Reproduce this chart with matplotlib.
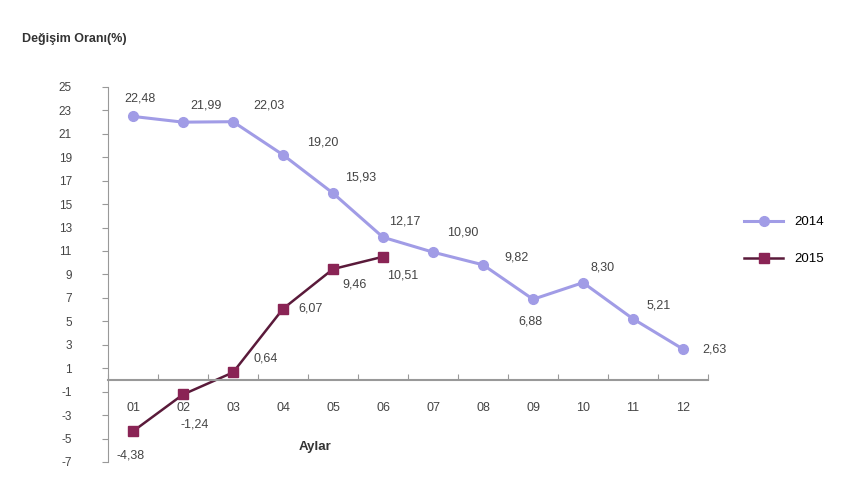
import numpy as np
import matplotlib.pyplot as plt

plt.rcParams['font.family'] = ['Liberation Sans', 'DejaVu Sans']

# data
months = ["01", "02", "03", "04", "05", "06", "07", "08", "09", "10", "11", "12"]
y2014 = [22.48, 21.99, 22.03, 19.20, 15.93, 12.17, 10.90, 9.82, 6.88, 8.30, 5.21, 2.63]
y2015 = [-4.38, -1.24, 0.64, 6.07, 9.46, 10.51]
yticks = [25, 23, 21, 19, 17, 15, 13, 11, 9, 7, 5, 3, 1, -1, -3, -5, -7]

# label offsets in pixels (dx, dy)
off2014 = [(7, 18), (23, 17), (36, 16), (40, 12), (28, 16), (22, 16),
           (30, 20), (33, 7), (-3, -22), (20, 15), (26, 13), (31, 0)]
off2015 = [(-2, -24), (12, -30), (33, 14), (28, 0), (22, -15), (20, -19)]

c14 = "#a19ce6"
c15 = "#8a2455"
txt = "#444444"

fig = plt.figure(figsize=(8.6, 4.8), dpi=100)
ax = fig.add_axes([0.1256, 0.0375, 0.6977, 0.7815])

x14 = np.arange(1, len(y2014) + 1)
x15 = np.arange(1, len(y2015) + 1)
ax.plot(x14, y2014, color=c14, lw=2.2, marker="o", ms=7, mfc=c14, mec=c14, label="2014")
ax.plot(x15, y2015, color="#5a1a3a", lw=1.8, marker="s", ms=7, mfc=c15, mec=c15, label="2015")

for xi, yi, (dx, dy) in zip(x14, y2014, off2014):
    ax.annotate(f"{yi:.2f}".replace(".", ","), (xi, yi), xytext=(dx, dy),
                textcoords="offset pixels", ha="center", va="center", fontsize=9, color=txt)
for xi, yi, (dx, dy) in zip(x15, y2015, off2015):
    ax.annotate(f"{yi:.2f}".replace(".", ","), (xi, yi), xytext=(dx, dy),
                textcoords="offset pixels", ha="center", va="center", fontsize=9, color=txt)

ax.set_xlim(0.5, 12.5)
ax.set_ylim(-7, 25)
ax.set_yticks(yticks)
ax.set_yticklabels([str(v) for v in yticks], fontsize=8.5, color=txt)
ax.set_xticks(np.arange(0.5, 13, 1))
ax.set_xticklabels([])
ax.tick_params(axis="x", direction="in", length=4, color="#999999")
ax.tick_params(axis="y", direction="out", length=4, color="#999999", pad=22)

for i, m in enumerate(months):
    ax.text(i + 1, -2.4, m, ha="center", va="center", fontsize=9, color=txt)

ax.spines["top"].set_visible(False)
ax.spines["right"].set_visible(False)
ax.spines["bottom"].set_position(("data", 0))
ax.spines["bottom"].set_color("#999999")
ax.spines["bottom"].set_linewidth(1.5)
ax.spines["left"].set_color("#999999")

fig.text(0.025, 0.912, "Değişim Oranı(%)", fontsize=9, fontweight="bold", color="#333333")
fig.text(0.366, 0.062, "Aylar", fontsize=9.5, fontweight="bold", color="#333333", ha="center")

ax.legend(loc="center left", bbox_to_anchor=(1.04, 0.59), frameon=False, fontsize=9.5,
          handlelength=3, labelspacing=1.9)

fig.savefig("out.png", dpi=100)
